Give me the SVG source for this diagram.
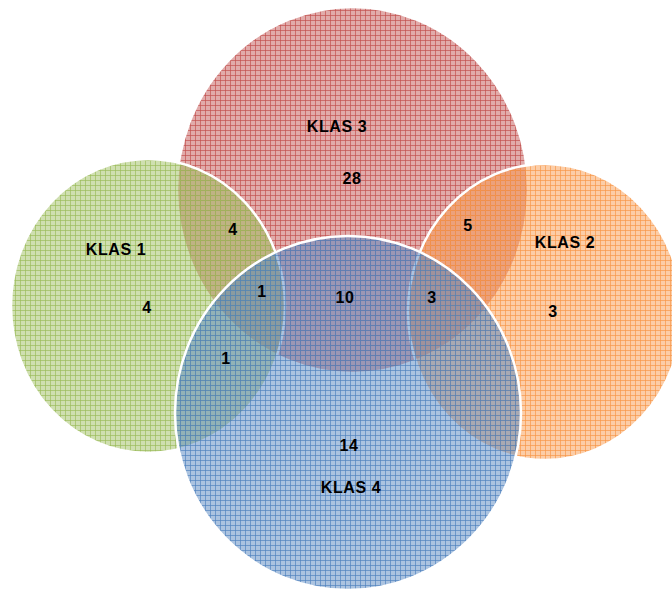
<svg xmlns="http://www.w3.org/2000/svg" width="672" height="591" viewBox="0 0 672 591">
<defs>
<pattern id="pRed" width="5" height="5" patternUnits="userSpaceOnUse">
<rect width="5" height="5" fill="#C0504D" fill-opacity="0.48"/>
<path d="M0 0.5H5M0.5 0V5" stroke="#C0504D" stroke-opacity="0.68" stroke-width="1" fill="none"/>
</pattern>
<pattern id="pGreen" width="5" height="5" patternUnits="userSpaceOnUse">
<rect width="5" height="5" fill="#9BBB59" fill-opacity="0.48"/>
<path d="M0 0.5H5M0.5 0V5" stroke="#9BBB59" stroke-opacity="0.68" stroke-width="1" fill="none"/>
</pattern>
<pattern id="pOrange" width="5" height="5" patternUnits="userSpaceOnUse">
<rect width="5" height="5" fill="#F79646" fill-opacity="0.48"/>
<path d="M0 0.5H5M0.5 0V5" stroke="#F79646" stroke-opacity="0.68" stroke-width="1" fill="none"/>
</pattern>
<pattern id="pBlue" width="5" height="5" patternUnits="userSpaceOnUse">
<rect width="5" height="5" fill="#4F81BD" fill-opacity="0.48"/>
<path d="M0 0.5H5M0.5 0V5" stroke="#4F81BD" stroke-opacity="0.68" stroke-width="1" fill="none"/>
</pattern>
</defs>
<style>
.set{stroke:#ffffff;stroke-width:2.5}
.t{font-family:"Liberation Sans",Arial,sans-serif;font-weight:bold;font-size:16px;letter-spacing:0.6px;fill:#000;text-anchor:middle}
</style>
<rect width="672" height="591" fill="#ffffff"/>
<g id="klas3"><ellipse class="set" cx="352.5" cy="190" rx="175.5" ry="183" fill="url(#pRed)"/></g>
<g id="klas1"><ellipse class="set" cx="148" cy="306" rx="137" ry="147" fill="url(#pGreen)"/></g>
<g id="klas2"><ellipse class="set" cx="545" cy="312" rx="137" ry="148" fill="url(#pOrange)"/></g>
<g id="klas4"><ellipse class="set" cx="348" cy="413" rx="173" ry="177" fill="url(#pBlue)"/></g>
<g id="connectors"></g>
<g id="labels">
<text class="t" x="337" y="132">KLAS 3</text>
<text class="t" x="352" y="184">28</text>
<text class="t" x="116" y="255">KLAS 1</text>
<text class="t" x="147" y="313">4</text>
<text class="t" x="233" y="235">4</text>
<text class="t" x="262" y="297">1</text>
<text class="t" x="226" y="364">1</text>
<text class="t" x="345" y="303">10</text>
<text class="t" x="432" y="303">3</text>
<text class="t" x="468" y="231">5</text>
<text class="t" x="565" y="248">KLAS 2</text>
<text class="t" x="553" y="317">3</text>
<text class="t" x="349" y="451">14</text>
<text class="t" x="351" y="493">KLAS 4</text>
</g>
</svg>
